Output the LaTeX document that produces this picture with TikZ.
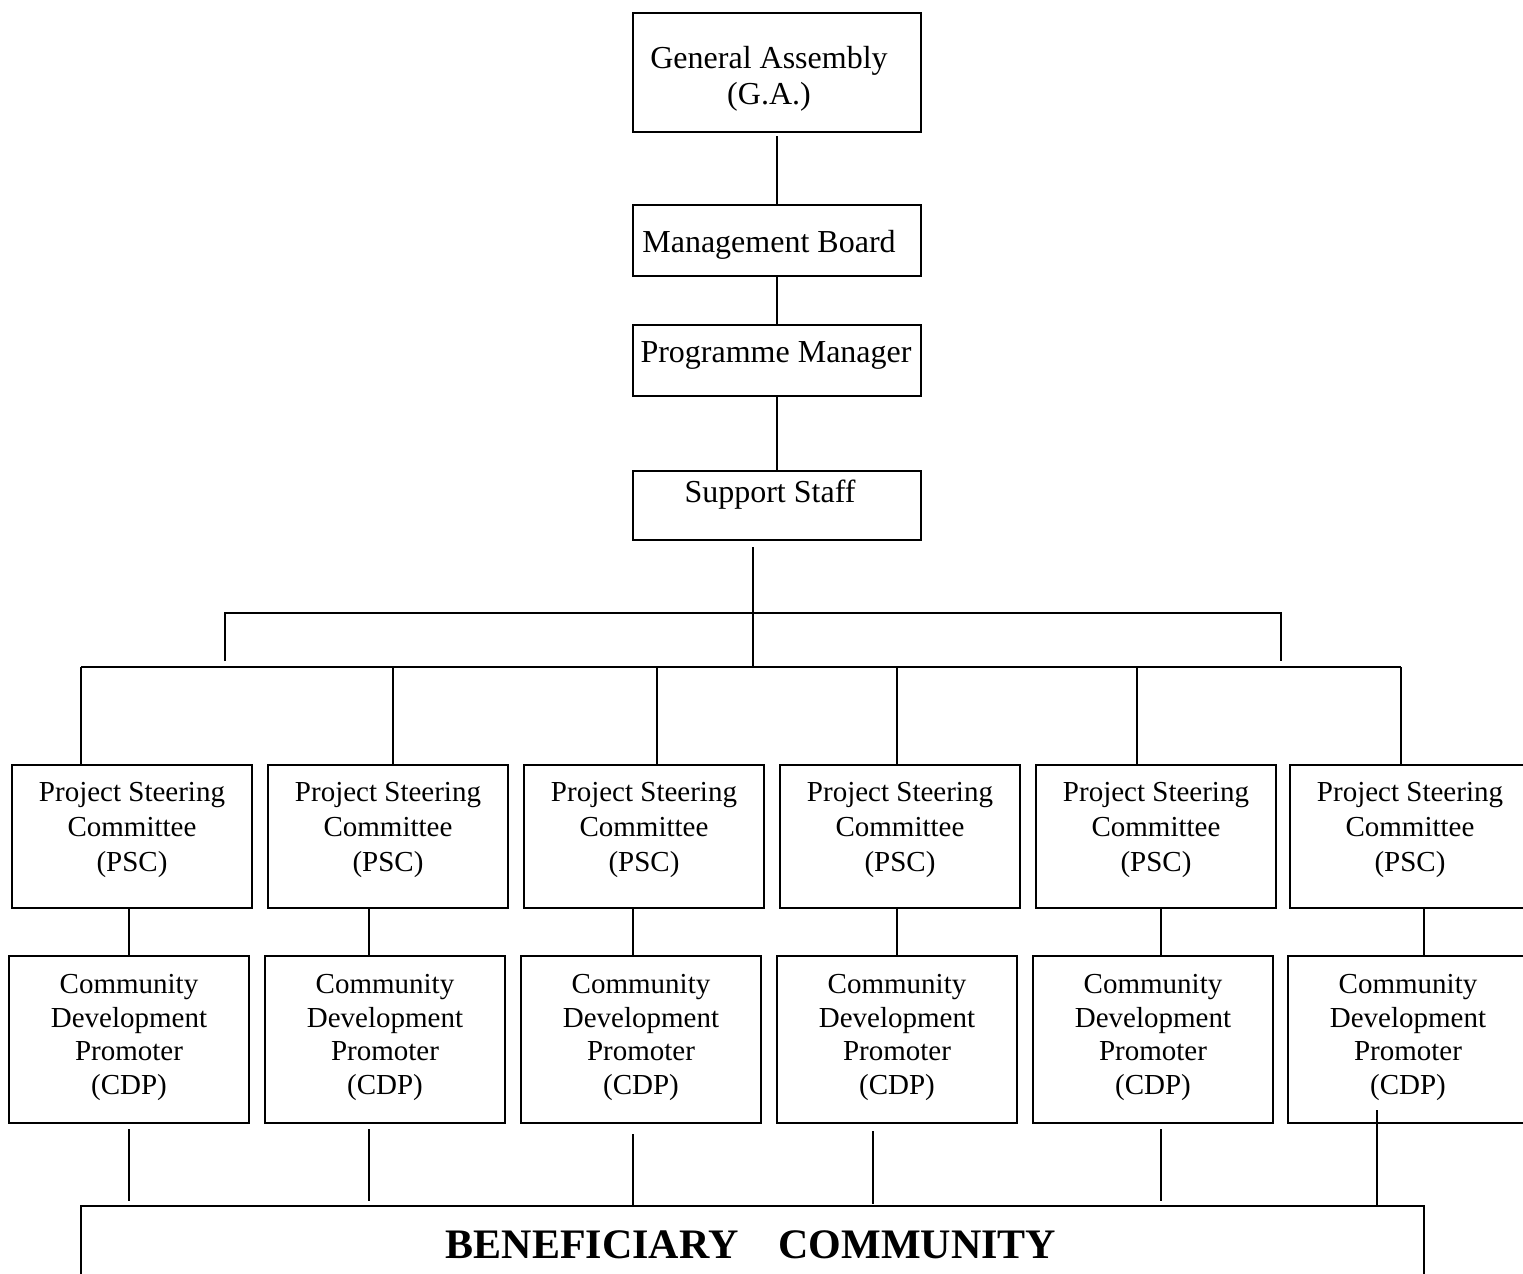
\documentclass[tikz,border=0pt]{standalone}
\usepackage{fontspec}
\setmainfont{Liberation Serif}
\tikzset{
  box/.style={draw, line width=1.8pt, rectangle, inner sep=0pt, outer sep=0pt},
  conn/.style={line width=1.8pt},
  toptxt/.style={font=\fontsize{32}{36}\selectfont, inner sep=0pt, align=center},
  psctxt/.style={font=\fontsize{29}{35}\selectfont, inner sep=0pt, align=center},
  cdptxt/.style={font=\fontsize{29}{33.7}\selectfont, inner sep=0pt, align=center},
  bctxt/.style={font=\fontsize{42}{48}\selectfont\bfseries, inner sep=0pt, anchor=base},
}
\begin{document}
\begin{tikzpicture}[x=1pt,y=-1pt]
\useasboundingbox[fill=white] (0,0) rectangle (1523,1274);

% top chain
\node[box, minimum width=288pt, minimum height=119pt] (ga) at (777,72.5) {};
\node[toptxt] (gat) at (769,79) {General Assembly\strut\\(G.A.)\strut};
\node[box, minimum width=288pt, minimum height=71pt] (mb) at (777,240.5) {};
\node[toptxt, anchor=base] (mbt) at (769,252.2) {Management Board};
\node[box, minimum width=288pt, minimum height=71pt] (pm) at (777,360.5) {};
\node[toptxt, anchor=base] (pmt) at (776,362.2) {Programme Manager};
\node[box, minimum width=288pt, minimum height=69pt] (ss) at (777,505.5) {};
\node[toptxt, anchor=base] (sst) at (770,502.2) {Support Staff};

\draw[conn, shorten <=4pt] (ga.south) -- (mb.north);
\draw[conn] (mb.south) -- (pm.north);
\draw[conn] (pm.south) -- (ss.north);

% PSC and CDP boxes
\foreach \i/\x in {1/132,2/388,3/644,4/900,5/1156,6/1410}{
  \node[box, minimum width=240pt, minimum height=143pt] (psc\i) at (\x,836.5) {};
  \node[psctxt] (psct\i) at (\x,829.5) {Project Steering\strut\\Committee\strut\\(PSC)\strut};
}
\foreach \i/\x in {1/129,2/385,3/641,4/897,5/1153,6/1408}{
  \node[box, minimum width=240pt, minimum height=167pt] (cdp\i) at (\x,1039.5) {};
  \node[cdptxt] (cdpt\i) at (\x,1037.3) {Community\strut\\Development\strut\\Promoter\strut\\(CDP)\strut};
}

% beneficiary community
\node[box, minimum width=1343pt, minimum height=120pt, anchor=north west] (bc) at (81,1206) {};
\node[bctxt] (bct) at (751,1258) {BENEFICIARY\hspace{40pt}COMMUNITY};

% bus structure
\coordinate (lbL) at (81,667);
\coordinate (lbR) at (1401,667);
\coordinate (ubL) at (225,613);
\coordinate (ubR) at (1281,613);
\coordinate (ubLe) at (225,661);
\coordinate (ubRe) at (1281,661);
\draw[conn] (lbL) -- (lbR);
\draw[conn] (ubLe) -- (ubL) -- (ubR) -- (ubRe);
\draw[conn] ([xshift=-24pt,yshift=-7pt]ss.south) -- ([xshift=-24pt]ss.south |- lbL);

\foreach \i/\dx in {1/-51,2/5,3/13,4/-3,5/-19,6/-9}{
  \draw[conn] ([xshift=\dx pt]psc\i.north) -- ([xshift=\dx pt]psc\i.north |- lbL);
}
\foreach \i/\dx in {1/-3,2/-19,3/-11,4/-3,5/5,6/14}{
  \draw[conn] ([xshift=\dx pt]psc\i.south) -- ([xshift=\dx pt]psc\i.south |- cdp\i.north);
}
\foreach \i/\dx/\ys/\gb in {1/0/-6/5,2/-16/-6/5,3/-8/-11/0,4/-24/-8/2,5/8/-6/5,6/-31/13/0}{
  \draw[conn, shorten >=\gb pt] ([xshift=\dx pt,yshift=\ys pt]cdp\i.south) -- ([xshift=\dx pt]cdp\i.south |- bc.north);
}
\end{tikzpicture}
\end{document}
